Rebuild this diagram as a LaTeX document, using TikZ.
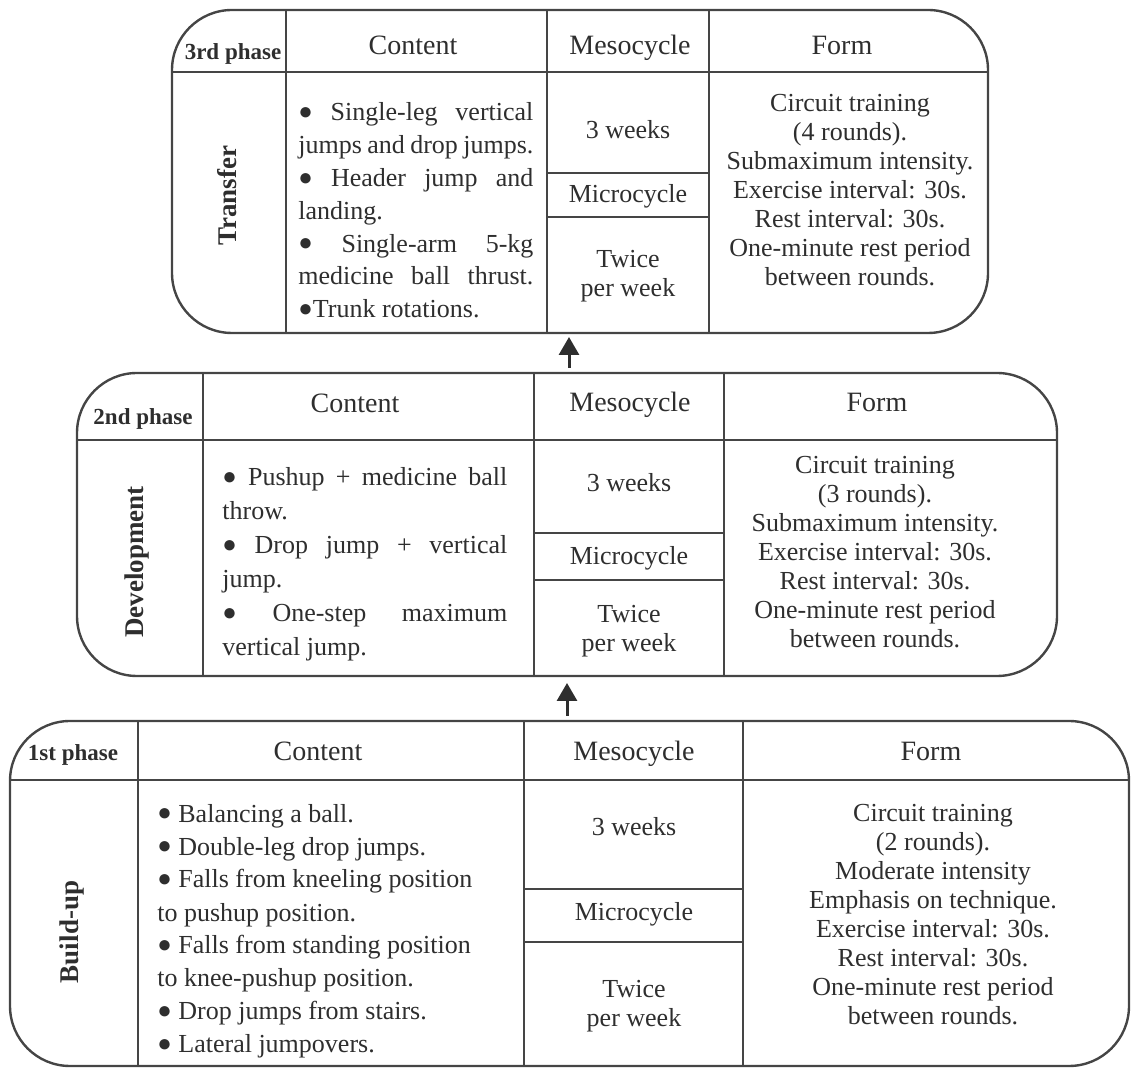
\documentclass[tikz,border=0pt]{standalone}
\usepackage{fontspec}
\setmainfont{Liberation Serif}
\usetikzlibrary{arrows.meta}

\definecolor{inkgray}{HTML}{2E2E2E}
\definecolor{rulegray}{HTML}{454545}

\newcommand{\headfont}{\fontsize{14}{16}\selectfont}
\newcommand{\cellfont}{\fontsize{13}{14.5}\selectfont}
\newcommand{\phasefont}{\fontsize{11.5}{13}\selectfont\bfseries}
\newcommand{\stagefont}{\fontsize{13.5}{15}\selectfont\bfseries}
\newcommand{\itemdot}{\raisebox{0.6pt}{\fontsize{12}{12}\selectfont ●}}

\tikzset{
  phasebox/.style={draw=rulegray, line width=1.2pt, rounded corners=30pt},
  rule/.style={draw=rulegray, line width=0.9pt},
  head/.style={anchor=base, font=\headfont, text=inkgray, inner sep=0pt},
  phase/.style={anchor=base, font=\phasefont, text=inkgray, inner sep=0pt},
  stage/.style={rotate=90, font=\stagefont, text=inkgray, inner sep=0pt},
  cell/.style={anchor=base, align=center, font=\cellfont, text=inkgray, inner sep=0pt},
  list/.style={anchor=base west, text=inkgray, inner sep=0pt},
  flow/.style={-{Triangle[length=9pt,width=10pt]}, line width=1.5pt, draw=inkgray},
}

\begin{document}
\begin{tikzpicture}[x=0.5pt, y=-0.5pt]
\useasboundingbox (0,0) rectangle (1131,1068);

% 3rd phase
\draw[phasebox] (172,10) rectangle (988,333);
\draw[rule] (172,72) -- (988,72);
\draw[rule] (286,10) -- (286,333) (547,10) -- (547,333) (709,10) -- (709,333);
\draw[rule] (547,173) -- (709,173) (547,217) -- (709,217);

\node[phase] (tPhase) at (233,60) {3rd phase};
\node[head] (tContent) at (413,55) {Content};
\node[head] (tMeso) at (630,55) {Mesocycle};
\node[head] (tForm) at (842,55) {Form};
\node[stage] (tStage) at (227,196) {Transfer};
\node[list, text width=117.5pt, align=justify, font=\fontsize{13}{16.4}\selectfont] (tList) at (298,121)
  {\itemdot\ Single-leg vertical\linebreak jumps and drop jumps.\par
   \itemdot\ Header jump and\linebreak landing.\par
   {\parfillskip=0pt \itemdot\ Single-arm 5-kg\linebreak medicine ball thrust.\par}
   \itemdot Trunk rotations.};
\node[cell] (tWeeks) at (628,139) {3 weeks};
\node[cell] (tMicro) at (628,203) {Microcycle};
\node[cell] (tTimes) at (628,297) {Twice\\per week};
\node[cell] (tFormText) at (850,286) {Circuit training\\(4 rounds).\\Submaximum intensity.\\Exercise interval: 30s.\\Rest interval: 30s.\\One-minute rest period\\between rounds.};

% 2nd phase
\draw[phasebox] (77,373) rectangle (1057,676);
\draw[rule] (77,440) -- (1057,440);
\draw[rule] (203,373) -- (203,676) (534,373) -- (534,676) (724,373) -- (724,676);
\draw[rule] (534,533) -- (724,533) (534,580) -- (724,580);

\node[phase] (mPhase) at (143,425) {2nd phase};
\node[head] (mContent) at (355,413) {Content};
\node[head] (mMeso) at (630,412) {Mesocycle};
\node[head] (mForm) at (877,412) {Form};
\node[stage] (mStage) at (137,562) {Development};
\node[list, text width=142.5pt, align=justify, font=\fontsize{13}{17}\selectfont] (mList) at (222,486)
  {\itemdot\ Pushup + medicine ball\linebreak throw.\par
   \itemdot\ Drop jump + vertical\linebreak jump.\par
   \itemdot\ One-step maximum\linebreak vertical jump.};
\node[cell] (mWeeks) at (629,492) {3 weeks};
\node[cell] (mMicro) at (629,565) {Microcycle};
\node[cell] (mTimes) at (629,652) {Twice\\per week};
\node[cell] (mFormText) at (875,648) {Circuit training\\(3 rounds).\\Submaximum intensity.\\Exercise interval: 30s.\\Rest interval: 30s.\\One-minute rest period\\between rounds.};

% 1st phase
\draw[phasebox] (10,721) rectangle (1129,1066);
\draw[rule] (10,780) -- (1129,780);
\draw[rule] (138,721) -- (138,1066) (524,721) -- (524,1066) (743,721) -- (743,1066);
\draw[rule] (524,889) -- (743,889) (524,942) -- (743,942);

\node[phase] (bPhase) at (73,761) {1st phase};
\node[head] (bContent) at (318,761) {Content};
\node[head] (bMeso) at (634,761) {Mesocycle};
\node[head] (bForm) at (931,761) {Form};
\node[stage] (bStage) at (72,932) {Build-up};
\node[list, align=left, font=\fontsize{13}{16.5}\selectfont] (bList) at (157,1053)
  {\itemdot\ Balancing a ball.\\
   \itemdot\ Double-leg drop jumps.\\
   \itemdot\ Falls from kneeling position\\
   to pushup position.\\
   \itemdot\ Falls from standing position\\
   to knee-pushup position.\\
   \itemdot\ Drop jumps from stairs.\\
   \itemdot\ Lateral jumpovers.};
\node[cell] (bWeeks) at (634,836) {3 weeks};
\node[cell] (bMicro) at (634,921) {Microcycle};
\node[cell] (bTimes) at (634,1027) {Twice\\per week};
\node[cell] (bFormText) at (933,1025) {Circuit training\\(2 rounds).\\Moderate intensity\\Emphasis on technique.\\Exercise interval: 30s.\\Rest interval: 30s.\\One-minute rest period\\between rounds.};

% arrows between phases
\coordinate (tFoot) at (569,337);
\coordinate (mHead) at (569,368);
\coordinate (mFoot) at (567,683);
\coordinate (bHead) at (567,716);
\draw[flow] (mHead) -- (tFoot);
\draw[flow] (bHead) -- (mFoot);
\end{tikzpicture}
\end{document}
